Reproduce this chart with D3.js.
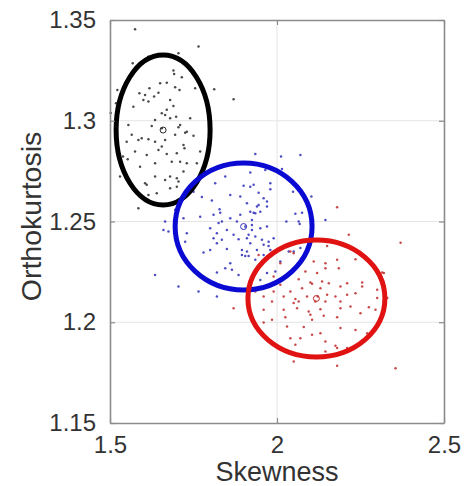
<!DOCTYPE html>
<html><head><meta charset="utf-8">
<script src="https://cdn.jsdelivr.net/npm/d3@7/dist/d3.min.js"></script>
<style>body{margin:0;background:#fff}svg{display:block}</style>
</head><body><svg id="c" width="475" height="486"></svg>
<script>
const xTicks=[1.5,2,2.5];
const xTickLabels=["1.5","2","2.5"];
const yTicks=[1.15,1.2,1.25,1.3,1.35];
const yTickLabels=["1.15","1.2","1.25","1.3","1.35"];
const xTitle="Skewness", yTitle="Orthokurtosis";

const blackPoints=[[1.575,1.3454],[1.765,1.3368],[1.705,1.3335],[1.615,1.3318],[1.568,1.3285],[1.690,1.3249],[1.692,1.3232],[1.715,1.3216],[1.650,1.3186],[1.670,1.3189],[1.618,1.3161],[1.588,1.3136],[1.605,1.3128],[1.632,1.3120],[1.645,1.3139],[1.695,1.3166],[1.708,1.3153],[1.522,1.3153],[1.812,1.3156],[1.870,1.3107],[1.755,1.3161],[1.600,1.3103],[1.615,1.3095],[1.680,1.3103],[1.690,1.3073],[1.670,1.3054],[1.655,1.3037],[1.570,1.3070],[1.698,1.3020],[1.635,1.3004],[1.665,1.3029],[1.680,1.3012],[1.740,1.3012],[1.555,1.2979],[1.625,1.2974],[1.710,1.2979],[1.705,1.2968],[1.655,1.2963],[1.730,1.2946],[1.518,1.3087],[1.502,1.3039],[1.550,1.2896],[1.585,1.2905],[1.615,1.2908],[1.635,1.2896],[1.665,1.2905],[1.695,1.2930],[1.725,1.2941],[1.750,1.2925],[1.575,1.2847],[1.610,1.2830],[1.645,1.2855],[1.670,1.2835],[1.700,1.2839],[1.723,1.2864],[1.770,1.2847],[1.553,1.2809],[1.590,1.2772],[1.635,1.2789],[1.685,1.2797],[1.710,1.2797],[1.730,1.2789],[1.760,1.2789],[1.530,1.2723],[1.635,1.2723],[1.665,1.2706],[1.680,1.2723],[1.700,1.2715],[1.720,1.2748],[1.610,1.2682],[1.680,1.2665],[1.700,1.2673],[1.640,1.2640],[1.615,1.2632],[1.585,1.2566],[1.705,1.2698],[1.605,1.2690],[1.539,1.2822],[1.655,1.2872],[1.720,1.2880],[1.565,1.2930],[1.595,1.2913]];

const bluePoints=[[1.920,1.2743],[1.845,1.2723],[1.815,1.2690],[1.900,1.2677],[1.920,1.2673],[1.945,1.2643],[1.860,1.2632],[1.890,1.2624],[1.960,1.2616],[1.750,1.2648],[1.775,1.2621],[1.805,1.2604],[1.970,1.2599],[1.910,1.2591],[1.940,1.2574],[1.828,1.2561],[1.830,1.2544],[1.920,1.2549],[1.935,1.2541],[1.950,1.2549],[1.770,1.2524],[1.810,1.2533],[1.860,1.2516],[1.890,1.2533],[1.720,1.2516],[1.835,1.2500],[1.825,1.2492],[1.880,1.2500],[1.925,1.2508],[1.925,1.2483],[1.905,1.2475],[1.800,1.2467],[1.850,1.2458],[1.925,1.2458],[1.950,1.2467],[1.970,1.2475],[1.730,1.2442],[1.820,1.2442],[1.870,1.2434],[1.915,1.2434],[1.935,1.2425],[1.810,1.2417],[1.835,1.2409],[1.885,1.2412],[1.910,1.2417],[1.955,1.2409],[1.725,1.2400],[1.820,1.2392],[1.920,1.2392],[1.960,1.2384],[1.975,1.2400],[1.800,1.2359],[1.850,1.2363],[1.895,1.2359],[1.910,1.2351],[1.980,1.2359],[1.780,1.2346],[1.895,1.2334],[1.905,1.2329],[1.915,1.2329],[1.960,1.2334],[1.860,1.2293],[1.845,1.2268],[1.865,1.2260],[1.820,1.2247],[1.885,1.2235],[1.950,1.2285],[1.665,1.2500],[1.660,1.2458],[1.675,1.2450],[1.635,1.2235],[1.705,1.2177],[1.765,1.2152],[1.695,1.2558],[1.980,1.2690],[1.820,1.2128],[1.935,1.2835],[2.012,1.2822],[2.070,1.2830],[1.965,1.2756],[2.015,1.2760],[1.930,1.2682],[1.980,1.2660],[2.048,1.2648],[1.945,1.2582],[1.970,1.2574],[1.930,1.2544],[2.055,1.2538],[2.075,1.2544],[2.028,1.2500],[2.065,1.2500],[2.145,1.2508],[1.990,1.2417],[1.975,1.2379],[2.035,1.2351],[2.050,1.2351],[2.010,1.2301],[1.940,1.2359],[1.935,1.2310],[2.103,1.2624],[2.070,1.2368],[1.970,1.2244],[1.995,1.2252],[1.950,1.2210],[2.068,1.2488]];

const redPoints=[[2.215,1.2434],[2.150,1.2379],[2.040,1.2351],[2.050,1.2343],[2.235,1.2313],[2.110,1.2301],[2.145,1.2293],[2.180,1.2310],[2.145,1.2268],[2.185,1.2268],[2.085,1.2252],[2.120,1.2244],[2.315,1.2247],[2.065,1.2214],[2.100,1.2197],[2.105,1.2191],[2.135,1.2202],[2.155,1.2194],[2.210,1.2194],[2.255,1.2197],[2.010,1.2186],[1.990,1.2152],[2.040,1.2152],[2.075,1.2169],[2.130,1.2169],[2.190,1.2177],[2.255,1.2177],[2.300,1.2161],[2.020,1.2128],[2.055,1.2115],[2.090,1.2128],[2.122,1.2128],[2.150,1.2136],[2.175,1.2128],[2.210,1.2136],[2.235,1.2144],[2.300,1.2120],[2.330,1.2120],[1.985,1.2103],[2.050,1.2095],[2.065,1.2103],[2.115,1.2103],[2.145,1.2103],[2.190,1.2103],[1.960,1.2062],[2.020,1.2062],[2.060,1.2070],[2.095,1.2053],[2.130,1.2065],[2.190,1.2070],[2.220,1.2078],[2.275,1.2075],[2.295,1.2062],[2.025,1.2025],[2.100,1.2037],[2.140,1.2032],[2.180,1.2025],[2.250,1.2045],[1.960,1.1999],[1.985,1.2012],[2.030,1.1979],[2.080,1.1976],[2.105,1.2012],[2.190,1.1971],[2.235,1.1962],[2.040,1.1921],[2.070,1.1921],[2.105,1.1938],[2.130,1.1946],[2.270,1.1946],[2.055,1.1888],[2.145,1.1904],[2.175,1.1883],[2.180,1.1872],[2.145,1.1855],[2.210,1.1872],[2.050,1.1805],[2.180,1.1784],[2.355,1.1772],[1.935,1.2152],[1.960,1.2128],[1.990,1.2227],[2.010,1.2293],[2.370,1.2395],[2.180,1.2571],[2.320,1.2244],[1.870,1.2070],[1.945,1.2334]];

const clusterColors=["#2a2a2a","#2e2eb8","#c02a2a"];
const ellipseColors=["#000000","#0a0ad2","#e01212"];
const ellipseCX=[1.659,1.900,2.118];
const ellipseCY=[1.2954,1.2475,1.2118];
const ellipseRX=[0.1407,0.205,0.205];
const ellipseRY=[0.0372,0.0315,0.029];

const W=475,H=486,m={l:110,r:31,t:20,b:63};
const svg=d3.select("#c");
const x=d3.scaleLinear().domain([1.5,2.5]).range([m.l,W-m.r]);
const y=d3.scaleLinear().domain([1.15,1.35]).range([H-m.b,m.t]);
const axisCol="#8c8c8c", gridCol="#e4e4e4", textCol="#333";
const font="'Liberation Sans', Arial, Helvetica, sans-serif";

// grid
svg.append("g").selectAll("line").data(xTicks.slice(1,-1)).join("line")
  .attr("x1",d=>x(d)).attr("x2",d=>x(d)).attr("y1",m.t).attr("y2",H-m.b)
  .attr("stroke",gridCol).attr("stroke-width",1);
svg.append("g").selectAll("line").data(yTicks.slice(1,-1)).join("line")
  .attr("y1",d=>y(d)).attr("y2",d=>y(d)).attr("x1",m.l).attr("x2",W-m.r)
  .attr("stroke",gridCol).attr("stroke-width",1);

// points
[blackPoints,bluePoints,redPoints].forEach((pts,i)=>{
  svg.append("g").selectAll("circle").data(pts).join("circle")
    .attr("cx",d=>x(d[0])).attr("cy",d=>y(d[1])).attr("r",1.25)
    .attr("fill",clusterColors[i]).attr("opacity",0.85);
});

// ellipses
ellipseCX.forEach((cx,i)=>{
  svg.append("ellipse")
    .attr("cx",x(cx)).attr("cy",y(ellipseCY[i]))
    .attr("rx",x(cx+ellipseRX[i])-x(cx))
    .attr("ry",y(ellipseCY[i])-y(ellipseCY[i]+ellipseRY[i]))
    .attr("fill","none").attr("stroke",ellipseColors[i]).attr("stroke-width",5);
  svg.append("circle").attr("cx",x(cx)).attr("cy",y(ellipseCY[i])).attr("r",3)
    .attr("fill","none").attr("stroke",clusterColors[i]).attr("stroke-width",1);
});

// axes (box style, inward ticks)
const gx=svg.append("g").attr("transform",`translate(0,${H-m.b})`)
  .call(d3.axisBottom(x).tickValues(xTicks).tickFormat((d,i)=>xTickLabels[i]).tickSizeInner(-5).tickSizeOuter(0).tickPadding(13));
const gy=svg.append("g").attr("transform",`translate(${m.l},0)`)
  .call(d3.axisLeft(y).tickValues(yTicks).tickFormat((d,i)=>yTickLabels[i]).tickSizeInner(-5).tickSizeOuter(0).tickPadding(14));
const gt=svg.append("g").attr("transform",`translate(0,${m.t})`)
  .call(d3.axisTop(x).tickValues(xTicks).tickFormat("").tickSizeInner(-5).tickSizeOuter(0));
const gr=svg.append("g").attr("transform",`translate(${W-m.r},0)`)
  .call(d3.axisRight(y).tickValues(yTicks).tickFormat("").tickSizeInner(-5).tickSizeOuter(0));
[gx,gy,gt,gr].forEach(g=>{
  g.select(".domain").attr("stroke",axisCol).attr("stroke-width",1.6);
  g.selectAll(".tick line").attr("stroke",axisCol).attr("stroke-width",1.2);
  g.selectAll(".tick text").attr("fill",textCol).style("font-family",font).style("font-size","24px");
});

svg.append("text").attr("x",x(2)).attr("y",481).attr("text-anchor","middle")
  .attr("fill",textCol).style("font-family",font).style("font-size","27px").text(xTitle);
svg.append("text").attr("transform",`translate(41,${(y(1.35)+y(1.15))/2-5}) rotate(-90)`)
  .attr("text-anchor","middle").attr("fill",textCol).style("font-family",font).style("font-size","28.5px").text(yTitle);
</script></body></html>
